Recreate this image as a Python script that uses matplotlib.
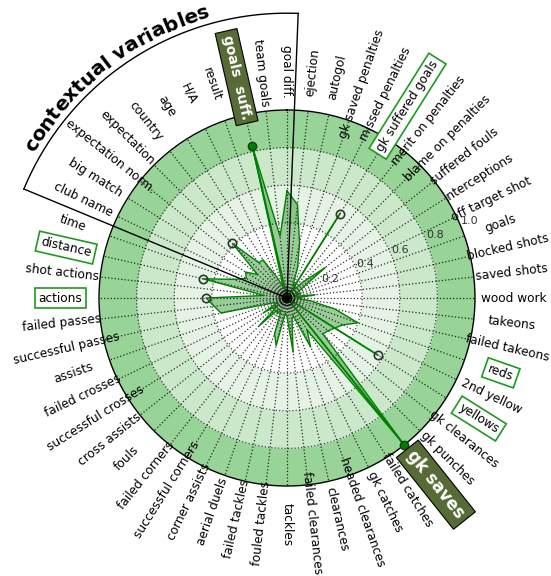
import numpy as np
import matplotlib
matplotlib.use('Agg')
import matplotlib.pyplot as plt

labels = ['goal diff.', 'ejection', 'autogol', 'gk saved penalties', 'missed penalties',
          'gk suffered goals', 'merit on penalties', 'blame on penalties', 'suffered fouls',
          'interceptions', 'off target shot', 'goals', 'blocked shots', 'saved shots',
          'wood work', 'takeons', 'failed takeons', 'reds', '2nd yellow', 'yellows',
          'gk clearances', 'gk punches', 'gk saves', 'failed catches', 'gk catches',
          'headed clearances', 'clearances', 'failed clearances', 'tackles', 'fouled tackles',
          'failed tackles', 'aerial duels', 'corner assists', 'successful corners',
          'failed corners', 'fouls', 'cross assists', 'successful crosses', 'failed crosses',
          'assists', 'successful passes', 'failed passes', 'actions', 'shot actions',
          'distance', 'time', 'club name', 'big match', 'expectation norm.', 'expectation',
          'country', 'age', 'H/A', 'result', 'goals suff.', 'team goals']

values = [0.57, 0.50, 0.30, 0.17, 0.07, 0.10, 0.05, 0.12, 0.26, 0.09,
          0.05, 0.08, 0.04, 0.15, 0.05, 0.12, 0.26, 0.40, 0.33, 0.30,
          0.28, 0.27, 1.00, 0.20, 0.29, 0.10, 0.12, 0.29, 0.10, 0.08,
          0.26, 0.20, 0.07, 0.10, 0.08, 0.21, 0.06, 0.15, 0.06, 0.08,
          0.36, 0.39, 0.43, 0.12, 0.46, 0.30, 0.24, 0.26, 0.20, 0.41,
          0.24, 0.24, 0.12, 0.06, 0.83, 0.33]

# highlighted features (marker values)
filled_feats = ['goals suff.', 'gk saves']
filled_vals = [0.83, 1.00]
open_feats = ['gk suffered goals', 'yellows', 'actions', 'distance', 'expectation']
open_vals = [0.53, 0.57, 0.43, 0.46, 0.41]
spoke_feats = ['goals suff.', 'gk saves', 'gk suffered goals', 'yellows']

boxed = ['gk suffered goals', 'reds', 'yellows', 'distance', 'actions']
dark_boxed = {'goals suff.': 'goals  suff.', 'gk saves': 'gk saves'}

# contextual group goes from 'club name' round to 'goal diff.'
context_first, context_last = 'club name', 'goal diff.'
context_title = 'contextual variables'

rticks = [0.2, 0.4, 0.6, 0.8, 1.0]
bands = [(0.4, 0.6, '#e5f3e5'), (0.6, 0.8, '#cbe8cb'), (0.8, 1.0, '#98d398')]

N = len(labels)
theta = np.arange(N) * 2 * np.pi / N
step = 2 * np.pi / N

fig = plt.figure(figsize=(5.51, 5.76), dpi=100)
ax = fig.add_axes([99/551, 90/576, 376/551, 376/576], projection='polar')
ax.set_theta_offset(np.pi / 2)
ax.set_theta_direction(-1)
ax.set_ylim(0, 1)

tt = np.linspace(0, 2 * np.pi, 400)
for r0, r1, c in bands:
    ax.fill_between(tt, r0, r1, color=c, lw=0, zorder=0.5)
for r in [0.4, 0.6, 0.8]:
    ax.plot(tt, [r] * len(tt), ls=':', color='k', lw=0.9, alpha=0.7, zorder=1.5)

# little rings round the centre
for r, lw, c, ls in [(0.012, 1.3, 'k', '-'), (0.026, 1.1, 'k', '-'), (0.042, 1.0, '#222', '-'),
                     (0.058, 0.9, '#444', '-'), (0.075, 0.8, '#555', ':'), (0.092, 0.8, '#666', ':'),
                     (0.11, 0.7, '#777', ':'), (0.13, 0.7, '#888', ':')]:
    ax.plot(tt, [r] * len(tt), ls=ls, color=c, lw=lw, zorder=3)
ax.plot([0], [0], 'o', ms=3, color='k', zorder=3)

# the profile
tc = np.append(theta, 2 * np.pi)
vc = np.append(values, values[0])
ax.fill(tc, vc, color='green', alpha=0.4, lw=0, zorder=1)
ax.plot(tc, vc, color='green', lw=1, zorder=2)

idx = {l: i for i, l in enumerate(labels)}
for f in spoke_feats:
    v = (filled_vals + open_vals)[(filled_feats + open_feats).index(f)]
    ax.plot([theta[idx[f]]] * 2, [0, v], color='green', lw=1.3, zorder=2.5)
for f, v in zip(filled_feats, filled_vals):
    ax.plot(theta[idx[f]], v, 'o', ms=6, mfc='green', mec='#1b3b1b', mew=1, clip_on=False, zorder=6)
for f, v in zip(open_feats, open_vals):
    ax.plot(theta[idx[f]], v, 'o', ms=6, mfc='none', mec='#333333', mew=1.2, clip_on=False, zorder=6)

ax.set_xticks(theta)
ax.set_xticklabels([])
ax.tick_params(axis='x', length=0)
ax.xaxis.grid(True, ls=':', color='k', lw=0.9, alpha=0.8)
ax.set_yticks(rticks)
ax.set_yticklabels(['%.1f' % r for r in rticks], fontsize=8, color='#333333')
ax.set_rlabel_position(67.5)
ax.yaxis.grid(False)
ax.spines['polar'].set_color('k')
ax.spines['polar'].set_linewidth(1)

for i, name in enumerate(labels):
    a = (90 - np.degrees(theta[i]) + 180) % 360 - 180
    rot = a if -90 <= a < 90 else (a - 180 if a >= 90 else a + 180)
    kw = dict(rotation=rot, rotation_mode='anchor', ha='center', va='center',
              fontsize=8.7, clip_on=False, zorder=7)
    r = 1.205
    if name in dark_boxed:
        big = name == 'gk saves'
        r = 1.27 if big else 1.205
        ax.text(theta[i], r, dark_boxed[name], color='white', fontweight='bold',
                bbox=dict(boxstyle='square,pad=0.3', fc='#566b35', ec='k', lw=0.8),
                **dict(kw, fontsize=12 if big else 10))
    elif name in boxed:
        ax.text(theta[i], r, name,
                bbox=dict(boxstyle='square,pad=0.3', fc='white', ec='#1f9a1f', lw=1.2), **kw)
    else:
        ax.text(theta[i], r, name, **kw)

# bracket round the contextual variables
t0 = theta[idx[context_first]] - step / 2
t1 = theta[idx[context_last]] + 2 * np.pi + step * 0.35
R = 1.515
ta = np.linspace(t0, t1, 200)
ax.plot(ta, [R] * len(ta), color='k', lw=1, clip_on=False, zorder=7)
for t in [t0, t1]:
    ax.plot([t, t], [0, R], color='k', lw=1, clip_on=False, zorder=7)

fig.canvas.draw()
rend = fig.canvas.get_renderer()
title_fs = 14.5

def text_width(s):
    t = fig.text(0, 0, s, fontsize=title_fs, fontweight='bold')
    w = t.get_window_extent(rend).width
    t.remove()
    return w

# letters follow the arc, spaced by their own widths
px_per_unit = ax.get_window_extent(rend).width / 2
R_txt = 1.55
r_mid = R_txt * px_per_unit + 5
centres = [text_width(context_title[:k + 1]) - text_width(ch) / 2
           for k, ch in enumerate(context_title)]
span = centres[-1] - centres[0]
a_mid = 127.75
for k, ch in enumerate(context_title):
    if ch == ' ':
        continue
    a = a_mid - np.degrees((centres[k] - centres[0] - span / 2) / r_mid)
    ax.text(np.radians(90 - a), R_txt, ch, fontsize=title_fs, fontweight='bold', rotation=a - 90,
            rotation_mode='anchor', ha='center', va='baseline', clip_on=False, zorder=7)

fig.savefig('out.png', dpi=100)
